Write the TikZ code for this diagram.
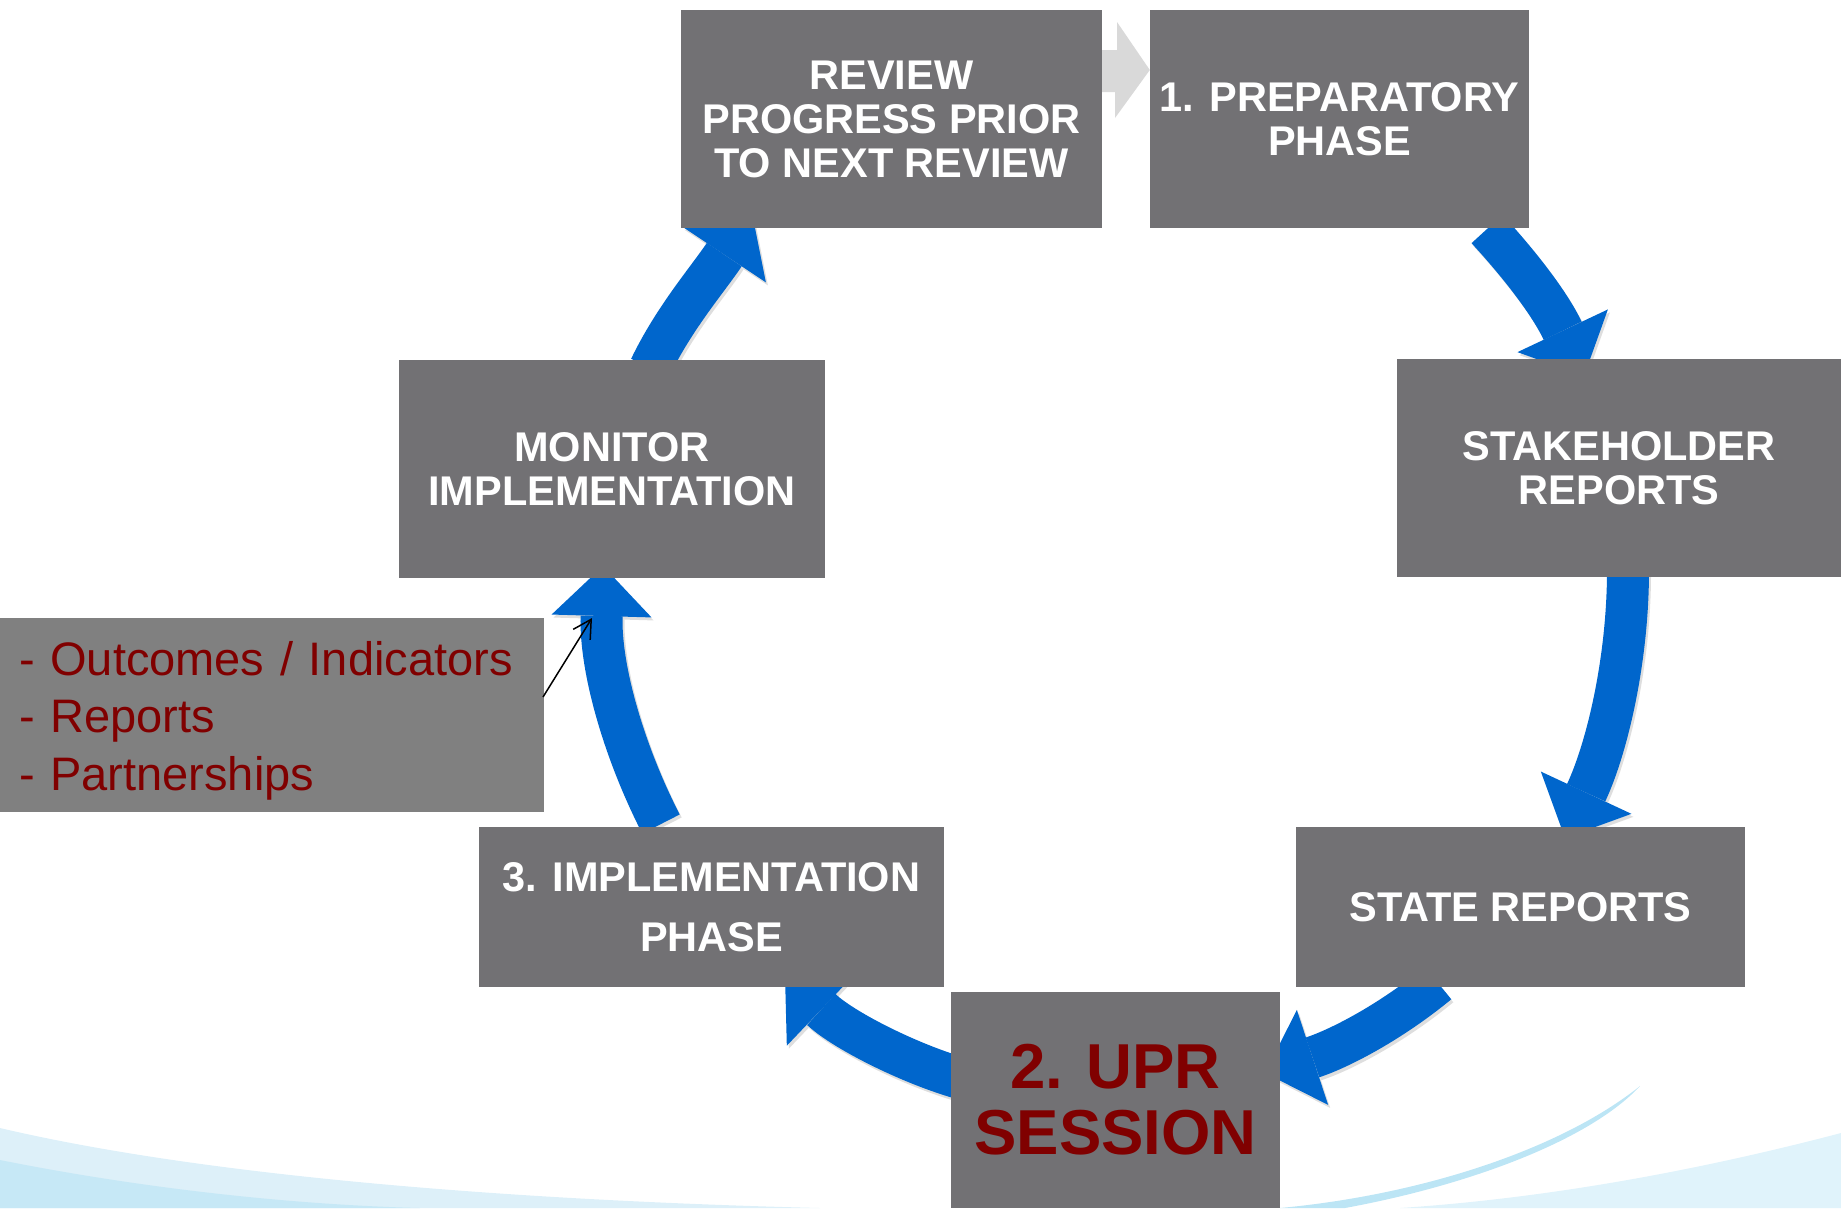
\documentclass[tikz,border=0pt]{standalone}
\usepackage{fontspec}
\setmainfont{Liberation Sans}
\usetikzlibrary{arrows.meta}
\definecolor{boxgray}{HTML}{727174}
\definecolor{notegray}{HTML}{808080}
\definecolor{upblue}{HTML}{0066CC}
\definecolor{darkred}{HTML}{800000}
\definecolor{arrgray}{HTML}{D9D9D9}
\definecolor{swA}{HTML}{DDF0F9}
\definecolor{swB}{HTML}{C6E8F6}
\definecolor{swC}{HTML}{BCE5F5}
\definecolor{swD}{HTML}{E0F3FB}
\newcommand\flowA[1]{\draw[#1] (a1s) .. controls (1521,266) and (1550,304) .. (a1e);}
\newcommand\flowB[1]{\draw[#1] (a2s) .. controls (1628,660) and (1607,748) .. (a2e);}
\newcommand\flowC[1]{\draw[#1] (a3s) .. controls (1392,1021) and (1341,1048) .. (a3e);}
\newcommand\flowD[1]{\draw[#1] (a4s) .. controls (922,1070) and (845,1032) .. (a4e);}
\newcommand\flowE[1]{\draw[#1] (a5s) .. controls (625,754) and (600,670) .. (a5e);}
\newcommand\flowF[1]{\draw[#1] (a6s) .. controls (674,318) and (708,279) .. (a6e);}
\begin{document}
\begin{tikzpicture}[x=1pt,y=-1pt,
  box/.style={fill=boxgray, text=white, inner sep=0pt, align=center,
    font=\bfseries\fontsize{41.5}{44}\selectfont},
  flow/.style={draw=upblue, line width=42pt,
    -{Triangle[length=50pt,width=100pt,line width=0pt]}},
  flowshadow/.style={draw=black!13, line width=42pt,
    -{Triangle[length=50pt,width=100pt,line width=0pt]},
    transform canvas={shift={(2pt,-3pt)}}},
  thin/.style={draw=black, line width=1.5pt,
    -{Straight Barb[length=18pt,width=20pt]}},
]
\useasboundingbox (0,0) rectangle (1841,1208);
% background swooshes
\fill[swA] (0,1128) .. controls (200,1175) and (500,1200) .. (820,1208) -- (0,1208) -- cycle;
\fill[swB] (0,1160) .. controls (150,1190) and (300,1205) .. (420,1208) -- (0,1208) -- cycle;
\fill[swD] (1841,1133) .. controls (1700,1170) and (1550,1198) .. (1400,1208) -- (1841,1208) -- cycle;
\fill[swC] (1640,1086) .. controls (1560,1150) and (1420,1195) .. (1280,1208) -- (1345,1208) .. controls (1470,1185) and (1590,1140) .. (1640,1086) -- cycle;
% arrow end points
\coordinate (a1s) at (1487,229); \coordinate (a1e) at (1584,376);
\coordinate (a2s) at (1628,570); \coordinate (a2e) at (1565,838);
\coordinate (a3s) at (1438,983); \coordinate (a3e) at (1265,1073);
\coordinate (a4s) at (975,1082); \coordinate (a4e) at (785,975);
\coordinate (a5s) at (661,824); \coordinate (a5e) at (603,566);
\coordinate (a6s) at (650,368); \coordinate (a6e) at (752,213);
% shadows
\flowA{flowshadow} \flowB{flowshadow} \flowC{flowshadow}
\flowD{flowshadow} \flowE{flowshadow} \flowF{flowshadow}
% blue arrows
\flowA{flow} \flowB{flow} \flowC{flow}
\flowD{flow} \flowE{flow} \flowF{flow}
% boxes
\node[box, minimum width=421pt, minimum height=218pt] (review) at (891.5,119)
  {REVIEW\\PROGRESS PRIOR\\TO NEXT REVIEW};
\node[box, minimum width=379pt, minimum height=218pt] (prep) at (1339.5,119)
  {1. PREPARATORY\\PHASE};
\node[box, minimum width=444pt, minimum height=218pt] (stake) at (1619,468)
  {STAKEHOLDER\\REPORTS};
\node[box, minimum width=449pt, minimum height=160pt] (state) at (1520.5,907)
  {STATE REPORTS};
\node[box, minimum width=329pt, minimum height=216pt, text=darkred,
  font=\bfseries\fontsize{63.5}{66}\selectfont] (upr) at (1115.5,1100)
  {2. UPR\\SESSION};
\node[box, minimum width=465pt, minimum height=160pt,
  font=\bfseries\fontsize{41.5}{60}\selectfont] (impl) at (711.5,907)
  {3. IMPLEMENTATION\\PHASE};
\node[box, minimum width=426pt, minimum height=218pt] (monitor) at (612,469)
  {MONITOR\\IMPLEMENTATION};
\node[fill=notegray, text=darkred, inner sep=0pt, minimum width=544pt,
  minimum height=194pt, text width=506pt, align=left,
  font=\fontsize{47}{57.5}\selectfont] (outcomes) at (272,715)
  {\rule{0pt}{45pt}- Outcomes / Indicators\\- Reports\\- Partnerships};
% grey arrow between review and preparatory
\fill[arrgray] (review.east |- 0,50) -- (1117,50) -- (1117,22) -- (prep.west |- 0,70)
  -- (1115,118) -- (1115,92) -- (review.east |- 0,92) -- cycle;
% thin pointer
\coordinate (notestart) at (543,697);
\coordinate (noteend) at (592,618);
\draw[thin] (notestart) -- (noteend);
\end{tikzpicture}
\end{document}
